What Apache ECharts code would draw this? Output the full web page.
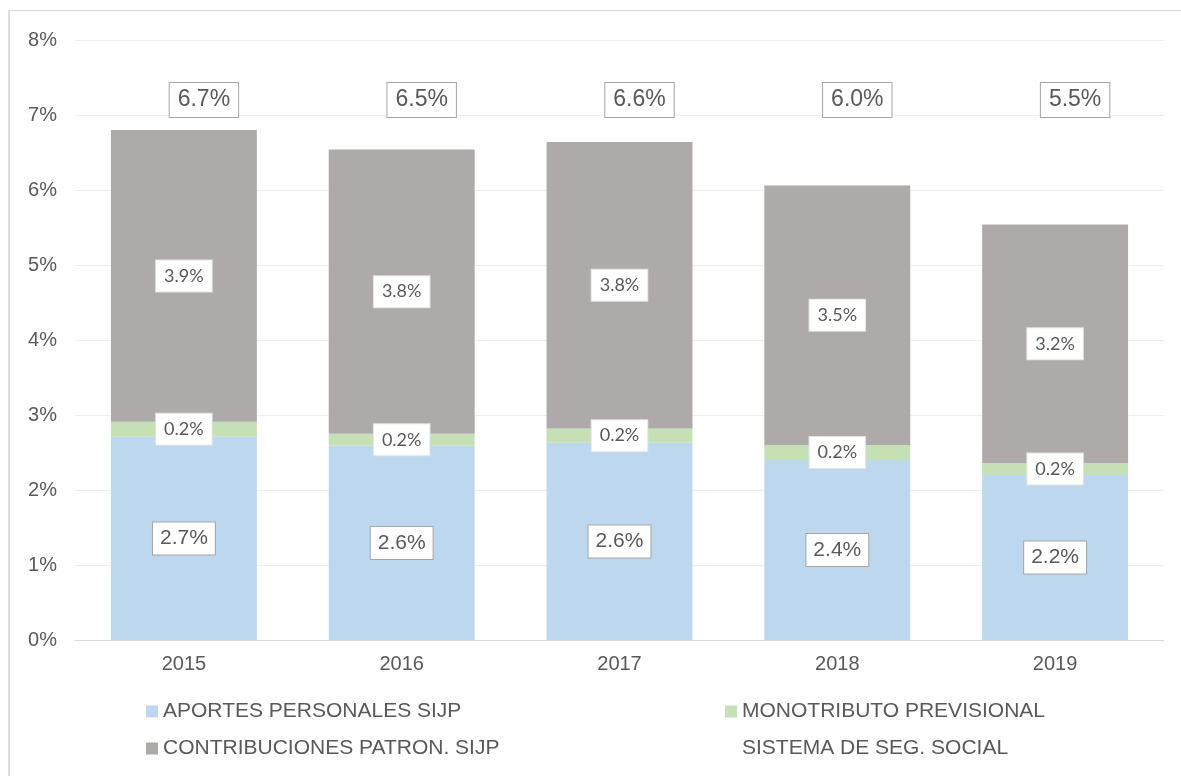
<!DOCTYPE html>
<html>
<head>
<meta charset="utf-8">
<script src="https://cdn.jsdelivr.net/npm/echarts@6/dist/echarts.min.js"></script>
<style>
  html, body { margin: 0; padding: 0; background: #ffffff; overflow: hidden; }
  #frame { position: absolute; left: 8px; top: 10px; width: 1200px; height: 800px; border-top: 1px solid #d9d9d9; border-left: 2px solid #dedede; box-sizing: border-box; }
  #chart { position: absolute; left: 0; top: 0; width: 1181px; height: 776px; }
</style>
</head>
<body>
<div id="frame"></div>
<div id="chart"></div>
<script>
// Recaudación del sistema de seguridad social, % del PIB
const years = ['2015', '2016', '2017', '2018', '2019'];
const aportesPersonales = [2.71, 2.59, 2.63, 2.40, 2.20];
const monotributo = [0.20, 0.16, 0.19, 0.20, 0.16];
const contribucionesPatronales = [3.89, 3.79, 3.82, 3.46, 3.18];
const sistemaTotal = [6.7, 6.5, 6.6, 6.0, 5.5];
const yTicks = [0, 1, 2, 3, 4, 5, 6, 7, 8];

const TEXT = '#595959';
const ARIAL = '"Liberation Sans", Arial, sans-serif';
const SOFT = 'Lato, "Open Sans", sans-serif';
const TOTAL_ROW = 7.2;      // height (in %) of the row holding the total labels
const TOTAL_SHIFT_X = 20;   // total labels sit slightly right of the bar centre

const pct = v => v.toFixed(1) + '%';

const boxedArial = {
  show: true,
  position: 'inside',
  formatter: p => pct(p.value),
  color: TEXT,
  fontFamily: ARIAL,
  fontSize: 21,
  backgroundColor: '#ffffff',
  borderColor: '#a6a6a6',
  borderWidth: 1,
  padding: [6, 7, 5, 7]
};
const boxedSoft = {
  show: true,
  position: 'inside',
  formatter: p => pct(p.value),
  color: TEXT,
  fontFamily: SOFT,
  fontSize: 18,
  backgroundColor: '#ffffff',
  borderColor: '#e3e3e3',
  borderWidth: 1,
  padding: [7, 8, 6, 8]
};

const legendText = { color: TEXT, fontFamily: ARIAL, fontSize: 21 };

const chart = echarts.init(document.getElementById('chart'), null, { renderer: 'canvas' });

chart.setOption({
  animation: false,
  backgroundColor: 'transparent',
  grid: { left: 75, right: 17, top: 40, bottom: 136, containLabel: false },
  legend: [
    {
      left: 146, top: 701, orient: 'vertical', itemGap: 16, padding: 0,
      itemWidth: 12, itemHeight: 12, icon: 'rect',
      textStyle: legendText,
      data: ['APORTES PERSONALES SIJP', 'CONTRIBUCIONES PATRON. SIJP']
    },
    {
      left: 725, top: 701, orient: 'vertical', itemGap: 16, padding: 0,
      itemWidth: 12, itemHeight: 12, icon: 'rect',
      textStyle: legendText,
      data: ['MONOTRIBUTO PREVISIONAL', { name: 'SISTEMA DE SEG. SOCIAL', itemStyle: { opacity: 0 } }]
    }
  ],
  xAxis: {
    type: 'category',
    data: years,
    axisLine: { lineStyle: { color: '#d9d9d9', width: 1 } },
    axisTick: { show: false },
    axisLabel: { color: TEXT, fontFamily: ARIAL, fontSize: 20, margin: 14 }
  },
  yAxis: {
    type: 'value',
    min: yTicks[0], max: yTicks[yTicks.length - 1], interval: 1,
    axisLine: { show: false },
    axisTick: { show: false },
    splitLine: { lineStyle: { color: '#efefef', width: 1 } },
    axisLabel: { color: TEXT, fontFamily: ARIAL, fontSize: 20, margin: 18, formatter: v => v + '%' }
  },
  series: [
    {
      name: 'APORTES PERSONALES SIJP', type: 'bar', stack: 'ss',
      barWidth: '67%', itemStyle: { color: '#bdd7ee' },
      label: boxedArial, data: aportesPersonales
    },
    {
      name: 'MONOTRIBUTO PREVISIONAL', type: 'bar', stack: 'ss',
      itemStyle: { color: '#c5e0b4' },
      label: boxedSoft, data: monotributo
    },
    {
      name: 'CONTRIBUCIONES PATRON. SIJP', type: 'bar', stack: 'ss',
      itemStyle: { color: '#aeaaaa' },
      label: boxedSoft, data: contribucionesPatronales
    },
    {
      name: 'SISTEMA DE SEG. SOCIAL', type: 'custom',
      itemStyle: { color: '#ffffff' },
      data: sistemaTotal.map((v, i) => [i, v]),
      renderItem: (params, api) => {
        const pt = api.coord([api.value(0), TOTAL_ROW]);
        return {
          type: 'text',
          x: pt[0] + TOTAL_SHIFT_X, y: pt[1],
          style: {
            text: pct(api.value(1)),
            fill: TEXT,
            font: '23px ' + ARIAL,
            align: 'center',
            verticalAlign: 'middle',
            backgroundColor: '#ffffff',
            borderColor: '#a6a6a6',
            borderWidth: 1,
            padding: [6, 8, 5, 8]
          }
        };
      }
    }
  ]
});
</script>
</body>
</html>
